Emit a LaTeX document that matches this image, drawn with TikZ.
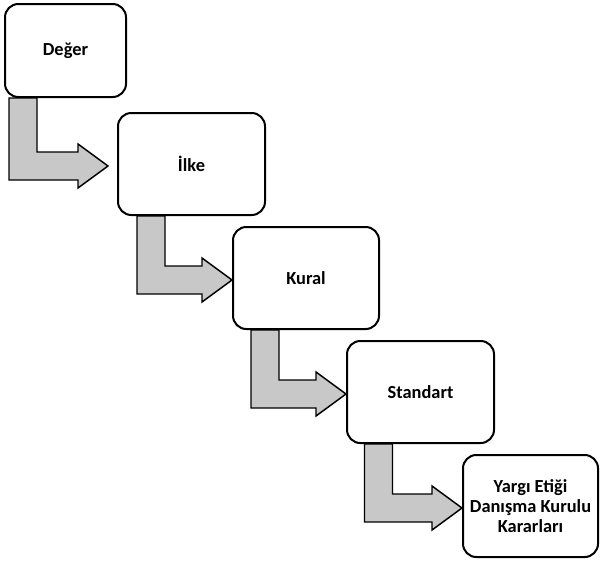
\documentclass[tikz,border=0pt]{standalone}
\usepackage{fontspec}
\setmainfont{Carlito}
\usetikzlibrary{calc}

\definecolor{arrowgray}{RGB}{200,200,200}
\tikzset{
  box/.style={draw,line width=1.5pt,rounded corners=10pt,fill=white,inner sep=0pt,
    align=center,font=\bfseries\fontsize{13.8}{15.2}\selectfont},
  bentarr/.style={draw,line width=1.1pt,fill=arrowgray,line join=miter}
}
% L-shaped block arrow: from node, to node, x of the bar, gap before the tip
\newcommand\bentarrow[4]{%
  \path[bentarr] let \p1=(#1.south), \p2=(#2.west), \p3=(#3,0) in
    (\x3,\y1) -- (\x3,\y2-12pt) -- (\x2-#4-22.5pt,\y2-12pt) -- (\x2-#4-22.5pt,\y2-18pt)
    -- (\x2-#4,\y2-1.5pt) -- (\x2-#4-22.5pt,\y2+15pt) -- (\x2-#4-22.5pt,\y2+9pt)
    -- (\x3+21pt,\y2+9pt) -- (\x3+21pt,\y1) -- cycle;}

\begin{document}
\begin{tikzpicture}[x=0.75pt,y=-0.75pt]
\useasboundingbox (0,0) rectangle (600,561);
\node[box,minimum width=90.75pt,minimum height=69.75pt] (deger) at (65.5,50.5) {Değer};
\node[box,minimum width=110.25pt,minimum height=76.5pt] (ilke) at (191.5,164) {İlke};
\node[box,minimum width=109.5pt,minimum height=76.5pt] (kural) at (306,278) {Kural};
\node[box,minimum width=110.25pt,minimum height=76.5pt] (standart) at (420.5,392) {Standart};
\node[box,minimum width=101.25pt,minimum height=76.5pt] (kurul) at (530.5,506) {Yargı Etiği\\Danışma Kurulu\\Kararları};

\bentarrow{deger}{ilke}{9}{6.75pt}
\bentarrow{ilke}{kural}{137}{0pt}
\bentarrow{kural}{standart}{251}{0pt}
\bentarrow{standart}{kurul}{364.5}{0pt}
\end{tikzpicture}
\end{document}
